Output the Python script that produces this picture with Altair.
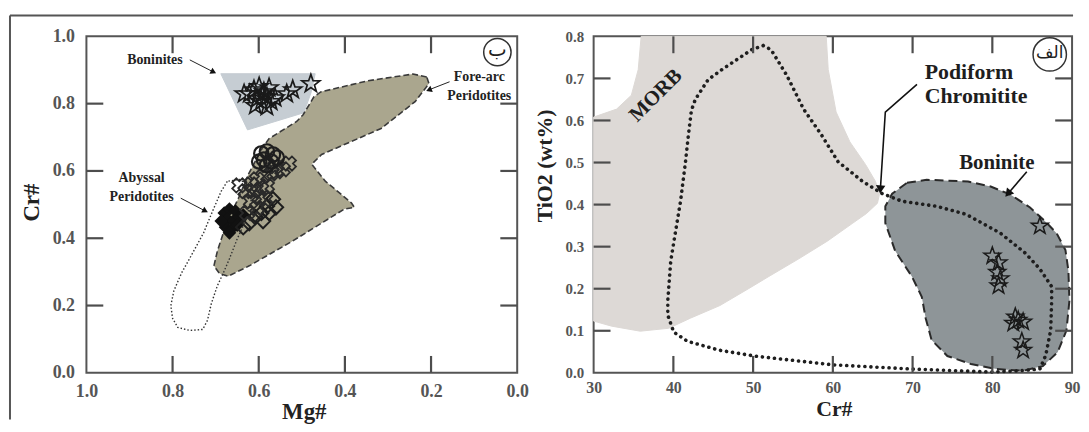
import altair as alt
import pandas as pd

# ---------------- Left panel: Cr# vs Mg# ----------------
bon_field_mg = [0.688, 0.469, 0.478, 0.495, 0.626]
bon_field_cr = [0.889, 0.889, 0.835, 0.773, 0.722]

forearc_mg = [0.210, 0.242, 0.346, 0.456, 0.472, 0.497, 0.512, 0.576, 0.592, 0.624, 0.647, 0.673,
              0.696, 0.704, 0.691, 0.671, 0.622, 0.521, 0.401, 0.378, 0.385, 0.408, 0.445, 0.477,
              0.454, 0.316, 0.237, 0.214, 0.205]
forearc_cr = [0.879, 0.888, 0.868, 0.835, 0.820, 0.767, 0.747, 0.696, 0.667, 0.590, 0.519, 0.451,
              0.362, 0.318, 0.295, 0.287, 0.318, 0.392, 0.487, 0.492, 0.505, 0.530, 0.569, 0.620,
              0.649, 0.726, 0.806, 0.844, 0.860]

abyssal_mg = [0.673, 0.687, 0.707, 0.728, 0.753, 0.779, 0.797, 0.804, 0.800, 0.788, 0.760, 0.730,
              0.719, 0.710, 0.696, 0.682, 0.668, 0.650, 0.631, 0.618, 0.618, 0.645]
abyssal_cr = [0.569, 0.540, 0.481, 0.416, 0.357, 0.297, 0.244, 0.200, 0.162, 0.135, 0.126, 0.129,
              0.156, 0.206, 0.259, 0.297, 0.339, 0.398, 0.451, 0.510, 0.555, 0.575]

star_mg = [0.622, 0.611, 0.599, 0.588, 0.604, 0.581, 0.594, 0.571, 0.634, 0.590, 0.576, 0.608,
           0.581, 0.562, 0.535, 0.521, 0.479]
star_cr = [0.829, 0.841, 0.850, 0.835, 0.814, 0.820, 0.806, 0.806, 0.829, 0.829, 0.847, 0.794,
           0.791, 0.817, 0.829, 0.841, 0.859]

circ_mg = [0.594, 0.581, 0.567, 0.588, 0.571, 0.558, 0.581, 0.599]
circ_cr = [0.652, 0.658, 0.649, 0.634, 0.628, 0.640, 0.617, 0.628]

cross_mg = [0.530, 0.544, 0.558, 0.571, 0.590, 0.604, 0.618, 0.631, 0.611, 0.594, 0.581, 0.599,
            0.618, 0.585, 0.604, 0.627, 0.645, 0.562]
cross_cr = [0.622, 0.605, 0.599, 0.593, 0.584, 0.575, 0.560, 0.540, 0.540, 0.546, 0.555, 0.522,
            0.510, 0.516, 0.490, 0.475, 0.557, 0.614]

dia_mg = [0.581, 0.567, 0.594, 0.608, 0.576, 0.622, 0.590, 0.560, 0.636]
dia_cr = [0.495, 0.516, 0.475, 0.463, 0.475, 0.445, 0.451, 0.492, 0.433]

blk_mg = [0.680, 0.668, 0.654, 0.673, 0.659, 0.645, 0.677, 0.664, 0.650, 0.636, 0.668, 0.687]
blk_cr = [0.475, 0.487, 0.481, 0.457, 0.451, 0.463, 0.433, 0.427, 0.439, 0.469, 0.416, 0.451]

left_labels_x = [0.0, 0.2, 0.4, 0.6, 0.8, 1.0]
left_labels_y = [0.0, 0.2, 0.4, 0.6, 0.8, 1.0]
left_ticks_x = [0.2, 0.4, 0.6, 0.8]
left_ticks_y = [0.2, 0.4, 0.6, 0.8]

left_text = ["Boninites", "Fore-arc", "Peridotites", "Abyssal", "Peridotites"]
left_text_mg = [0.841, 0.088, 0.088, 0.872, 0.872]
left_text_cr = [0.930, 0.879, 0.823, 0.579, 0.523]

# arrows: start -> end
left_arrow_id = ["bon", "bon", "fa", "fa", "aby", "aby"]
left_arrow_mg = [0.760, 0.705, 0.157, 0.205, 0.781, 0.724]
left_arrow_cr = [0.930, 0.894, 0.865, 0.841, 0.519, 0.481]
left_head_mg = [0.705, 0.205, 0.724]
left_head_cr = [0.894, 0.841, 0.481]
left_head_ang = [27, 159, 28]

left_badge = ["ب"]
left_badge_mg = [0.046]
left_badge_cr = [0.953]

# ---------------- Right panel: TiO2 vs Cr# ----------------
morb_cr = [35.96, 35.59, 34.73, 32.88, 30.0, 30.0, 32.26, 35.84, 39.42, 42.14, 45.84, 49.42,
           52.14, 55.72, 59.30, 62.51, 64.23, 65.59, 65.84, 65.35, 64.11, 62.14, 60.41, 59.42, 59.17]
morb_ti = [0.800, 0.721, 0.660, 0.627, 0.608, 0.123, 0.111, 0.099, 0.106, 0.130, 0.160, 0.200,
           0.231, 0.271, 0.313, 0.356, 0.379, 0.403, 0.424, 0.455, 0.495, 0.549, 0.620, 0.721, 0.800]

bonr_cr = [69.30, 71.77, 76.95, 79.79, 82.26, 84.73, 86.58, 88.06, 89.17, 89.54, 89.67, 89.30,
           88.19, 86.33, 83.86, 80.53, 77.32, 74.36, 72.38, 71.64, 71.15, 69.91, 67.81, 66.58,
           66.58, 67.44]
bonr_ti = [0.452, 0.459, 0.455, 0.443, 0.424, 0.393, 0.361, 0.332, 0.292, 0.243, 0.172, 0.101,
           0.049, 0.016, 0.005, 0.009, 0.021, 0.040, 0.078, 0.130, 0.181, 0.229, 0.290, 0.356,
           0.396, 0.426]

pod_cr = [51.27, 52.26, 54.23, 56.33, 58.56, 60.65, 63.74, 66.21, 68.68, 73.0, 76.70, 81.02,
          84.11, 85.96, 87.44, 87.44, 87.32, 86.70, 85.96, 83.49, 79.79, 69.91, 60.04, 50.16,
          45.72, 41.77, 40.04, 39.30, 39.30, 39.67, 40.28, 40.90, 41.52, 41.89, 42.26, 42.75,
          44.36, 46.09, 49.79]
pod_ti = [0.778, 0.768, 0.707, 0.627, 0.566, 0.502, 0.455, 0.426, 0.408, 0.396, 0.377, 0.332,
          0.285, 0.247, 0.205, 0.172, 0.101, 0.042, 0.009, 0.005, 0.002, 0.009, 0.019, 0.040,
          0.054, 0.075, 0.097, 0.137, 0.172, 0.266, 0.337, 0.408, 0.502, 0.566, 0.624, 0.650,
          0.697, 0.721, 0.768]

rstar_cr = [85.96, 80.0, 80.78, 80.62, 81.02, 80.78, 82.88, 83.25, 83.86, 82.63, 83.70, 83.86]
rstar_ti = [0.349, 0.278, 0.262, 0.239, 0.224, 0.207, 0.133, 0.125, 0.121, 0.118, 0.074, 0.054]

right_labels_x = [30, 40, 50, 60, 70, 80, 90]
right_labels_y = [0.0, 0.1, 0.2, 0.3, 0.4, 0.5, 0.6, 0.7, 0.8]
right_ticks_x = [40, 50, 60, 70, 80]
right_ticks_y = [0.1, 0.2, 0.3, 0.4, 0.5, 0.6, 0.7]

right_text = ["Podiform", "Chromitite", "Boninite"]
right_text_cr = [71.52, 71.52, 75.84]
right_text_ti = [0.714, 0.657, 0.498]
right_text_size = [22, 22, 21]

right_arrow_id = ["pod", "pod", "pod", "bon", "bon"]
right_arrow_cr = [70.55, 66.58, 65.96, 84.32, 81.96]
right_arrow_ti = [0.686, 0.620, 0.436, 0.478, 0.426]
right_head_cr = [65.96, 81.96]
right_head_ti = [0.436, 0.426]
right_head_ang = [94, 130]

morb_label = ["MORB"]
morb_label_cr = [37.81]
morb_label_ti = [0.659]

right_badge = ["الف"]
right_badge_cr = [87.20]
right_badge_ti = [0.757]

# ---------------- helpers ----------------
SERIF = "Liberation Serif"
AX = "#555555"
STAR = ("M0,-1L0.235,-0.324L0.951,-0.309L0.380,0.124L0.588,0.809L0,0.4L-0.588,0.809"
        "L-0.380,0.124L-0.951,-0.309L-0.235,-0.324Z")
TICK = 17


def poly_df(xs, ys):
    xs = list(xs) + [xs[0]]
    ys = list(ys) + [ys[0]]
    return pd.DataFrame({"x": xs, "y": ys, "i": list(range(len(xs)))})


def pts_df(xs, ys, **extra):
    d = {"x": xs, "y": ys}
    d.update(extra)
    return pd.DataFrame(d)


def enc(xsc, ysc, **kw):
    return dict(x=alt.X("x:Q", scale=xsc, axis=None), y=alt.Y("y:Q", scale=ysc, axis=None), **kw)


def tick_layers(W, H, xsc, ysc, xticks, yticks):
    xt = pd.DataFrame({"tx": xticks})
    yt = pd.DataFrame({"ty": yticks})
    rk = dict(color="#4d4d4d", strokeWidth=2.2)
    return [
        alt.Chart(xt).mark_rule(**rk).encode(
            x=alt.X("tx:Q", scale=xsc, axis=None), y=alt.value(H - TICK), y2=alt.value(H)),
        alt.Chart(xt).mark_rule(**rk).encode(
            x=alt.X("tx:Q", scale=xsc, axis=None), y=alt.value(0), y2=alt.value(TICK)),
        alt.Chart(yt).mark_rule(**rk).encode(
            y=alt.Y("ty:Q", scale=ysc, axis=None), x=alt.value(0), x2=alt.value(TICK)),
        alt.Chart(yt).mark_rule(**rk).encode(
            y=alt.Y("ty:Q", scale=ysc, axis=None), x=alt.value(W - TICK), x2=alt.value(W)),
    ]


def axes_layer(xsc, ysc, xlab, ylab, xfmt, yfmt, xtitle, ytitle, lab_size_x, lab_size_y,
               title_size, xtitle_pos, ytitle_pos, lab_pad_x, lab_pad_y):
    anchor = pd.DataFrame({"x": [xlab[0]], "y": [ylab[0]]})
    return alt.Chart(anchor).mark_point(opacity=0).encode(
        x=alt.X("x:Q", scale=xsc, axis=alt.Axis(
            orient="bottom", values=xlab, format=xfmt, ticks=False, domain=False, grid=False,
            labelFont=SERIF, labelFontWeight="bold", labelFontSize=lab_size_x, labelColor=AX,
            labelPadding=lab_pad_x, labelFlush=False, labelOverlap=False,
            title=xtitle, titleFont=SERIF, titleFontWeight="bold", titleFontSize=title_size,
            titleColor="#222222", titleX=xtitle_pos[0], titleY=xtitle_pos[1],
            titleBaseline="middle", titleAlign="center")),
        y=alt.Y("y:Q", scale=ysc, axis=alt.Axis(
            orient="left", values=ylab, format=yfmt, ticks=False, domain=False, grid=False,
            labelFont=SERIF, labelFontWeight="bold", labelFontSize=lab_size_y, labelColor=AX,
            labelPadding=lab_pad_y, labelOverlap=False, labelBaseline="middle",
            title=ytitle, titleFont=SERIF, titleFontWeight="bold", titleFontSize=title_size,
            titleColor="#222222", titleX=ytitle_pos[0], titleY=ytitle_pos[1],
            titleBaseline="middle", titleAlign="center", titleAngle=270)),
    )


# ---------------- left panel layers ----------------
LW, LH = 434, 339
lx = alt.Scale(domain=[0, 1], reverse=True, nice=False, zero=False)
ly = alt.Scale(domain=[0, 1], nice=False, zero=False)

frame_top = alt.Chart(pd.DataFrame({"k": [0]})).mark_rule(color="#555555", strokeWidth=2).encode(
    x=alt.value(-77), x2=alt.value(994), y=alt.value(-21))
frame_left = alt.Chart(pd.DataFrame({"k": [1]})).mark_rule(color="#555555", strokeWidth=2).encode(
    x=alt.value(-77), y=alt.value(-21), y2=alt.value(386))

l_bon = alt.Chart(poly_df(bon_field_mg, bon_field_cr)).mark_line(
    fill="#c6cdd3", stroke="#c6cdd3", strokeWidth=1).encode(**enc(lx, ly, order="i:Q"))
l_fa = alt.Chart(poly_df(forearc_mg, forearc_cr)).mark_line(
    fill="#aaa68e", stroke="#3a3a3a", strokeWidth=1.6, strokeDash=[6, 3]).encode(**enc(lx, ly, order="i:Q"))
l_aby = alt.Chart(poly_df(abyssal_mg, abyssal_cr)).mark_line(
    stroke="#333333", strokeWidth=1.4, strokeDash=[1.5, 2], strokeCap="butt").encode(**enc(lx, ly, order="i:Q"))

l_blk = alt.Chart(pts_df(blk_mg, blk_cr)).mark_point(
    shape="diamond", filled=True, color="#111111", size=190, opacity=1).encode(**enc(lx, ly))
l_dia = alt.Chart(pts_df(dia_mg, dia_cr)).mark_point(
    shape="diamond", filled=False, color="#1e1e1e", size=210, strokeWidth=2, opacity=1).encode(**enc(lx, ly))
l_cross = alt.Chart(pts_df(cross_mg, cross_cr)).mark_point(
    shape="cross", angle=45, filled=False, color="#2a2a2a", size=210, strokeWidth=1.8, opacity=1).encode(**enc(lx, ly))
l_circ = alt.Chart(pts_df(circ_mg, circ_cr)).mark_point(
    shape="circle", filled=False, color="#1e1e1e", size=210, strokeWidth=2.2, opacity=1).encode(**enc(lx, ly))
l_star = alt.Chart(pts_df(star_mg, star_cr)).mark_point(
    shape=STAR, filled=False, color="#1a1a1a", size=360, strokeWidth=1.7, opacity=1).encode(**enc(lx, ly))

l_text = alt.Chart(pts_df(left_text_mg, left_text_cr, t=left_text)).mark_text(
    font=SERIF, fontWeight="bold", fontSize=14, color="#222222", align="center", baseline="middle"
).encode(**enc(lx, ly, text="t:N"))
l_arrow = alt.Chart(pts_df(left_arrow_mg, left_arrow_cr, g=left_arrow_id,
                           i=list(range(len(left_arrow_id))))).mark_line(
    color="#222222", strokeWidth=1).encode(**enc(lx, ly, detail="g:N", order="i:Q"))
l_head = alt.Chart(pts_df(left_head_mg, left_head_cr, a=left_head_ang)).mark_point(
    shape="triangle-right", filled=True, color="#111111", size=45, opacity=1).encode(
    **enc(lx, ly, angle=alt.Angle("a:Q", scale=None)))
l_badge_c = alt.Chart(pts_df(left_badge_mg, left_badge_cr)).mark_point(
    shape="circle", filled=False, color="#333333", size=760, strokeWidth=1.5, opacity=1).encode(**enc(lx, ly))
l_badge_t = alt.Chart(pts_df(left_badge_mg, left_badge_cr, t=left_badge)).mark_text(
    font="DejaVu Sans", fontSize=20, color="#222222", align="center", baseline="middle", dy=-2
).encode(**enc(lx, ly, text="t:N"))

l_axes = axes_layer(lx, ly, left_labels_x, left_labels_y, ".1f", ".1f", "Mg#", "Cr#", 18, 18, 23,
                    (219, 39), (-55, 167), 10, 12)

left = alt.layer(
    frame_top, frame_left, l_bon, l_fa, l_aby,
    *tick_layers(LW, LH, lx, ly, left_ticks_x, left_ticks_y),
    l_blk, l_dia, l_cross, l_circ, l_star, l_text, l_arrow, l_head, l_badge_c, l_badge_t, l_axes
).resolve_axis(x="independent", y="independent").properties(width=LW, height=LH)

# ---------------- right panel layers ----------------
RW, RH = 482, 339
rx = alt.Scale(domain=[30, 90], nice=False, zero=False)
ry = alt.Scale(domain=[0, 0.8], nice=False, zero=False)

r_morb = alt.Chart(poly_df(morb_cr, morb_ti)).mark_line(
    fill="#ddd9d6", stroke="#ddd9d6", strokeWidth=1).encode(**enc(rx, ry, order="i:Q"))
r_bon = alt.Chart(poly_df(bonr_cr, bonr_ti)).mark_line(
    fill="#8e9598", stroke="#2a2a2a", strokeWidth=2, strokeDash=[9, 5]).encode(**enc(rx, ry, order="i:Q"))
r_pod = alt.Chart(poly_df(pod_cr, pod_ti)).mark_line(
    stroke="#1e1e1e", strokeWidth=3.6, strokeDash=[0.1, 6], strokeCap="round").encode(**enc(rx, ry, order="i:Q"))
r_star = alt.Chart(pts_df(rstar_cr, rstar_ti)).mark_point(
    shape=STAR, filled=False, color="#1a1a1a", size=320, strokeWidth=1.5, opacity=1).encode(**enc(rx, ry))

r_text = alt.Chart(pts_df(right_text_cr, right_text_ti, t=right_text,
                          fs=right_text_size)).mark_text(
    font=SERIF, fontWeight="bold", color="#1e1e1e", align="left", baseline="middle"
).encode(**enc(rx, ry, text="t:N", size=alt.Size("fs:Q", scale=None)))
r_morb_t = alt.Chart(pts_df(morb_label_cr, morb_label_ti, t=morb_label)).mark_text(
    font=SERIF, fontWeight="bold", fontSize=21, color="#1e1e1e", align="center", baseline="middle",
    angle=315).encode(**enc(rx, ry, text="t:N"))
r_arrow = alt.Chart(pts_df(right_arrow_cr, right_arrow_ti, g=right_arrow_id,
                           i=list(range(len(right_arrow_id))))).mark_line(
    color="#111111", strokeWidth=1.6).encode(**enc(rx, ry, detail="g:N", order="i:Q"))
r_head = alt.Chart(pts_df(right_head_cr, right_head_ti, a=right_head_ang)).mark_point(
    shape="triangle-right", filled=True, color="#111111", size=90, opacity=1).encode(
    **enc(rx, ry, angle=alt.Angle("a:Q", scale=None)))
r_badge_c = alt.Chart(pts_df(right_badge_cr, right_badge_ti)).mark_point(
    shape="circle", filled=False, color="#333333", size=1130, strokeWidth=1.5, opacity=1).encode(**enc(rx, ry))
r_badge_t = alt.Chart(pts_df(right_badge_cr, right_badge_ti, t=right_badge)).mark_text(
    font="DejaVu Sans", fontSize=17, color="#222222", align="center", baseline="middle", dy=-1
).encode(**enc(rx, ry, text="t:N"))

r_axes = axes_layer(rx, ry, right_labels_x, right_labels_y, "d", ".1f", "Cr#", "TiO2 (wt%)", 16, 15, 22,
                    (242, 36), (-49, 130), 7, 10)

right = alt.layer(
    r_morb, r_bon, r_pod,
    *tick_layers(RW, RH, rx, ry, right_ticks_x, right_ticks_y),
    r_star, r_text, r_morb_t, r_arrow, r_head, r_badge_c, r_badge_t, r_axes
).resolve_axis(x="independent", y="independent").properties(width=RW, height=RH)

chart = alt.hconcat(left, right, spacing=77, bounds="flush").properties(
    padding={"left": 0, "top": 4, "right": 0, "bottom": 0},
).configure_view(stroke=AX, strokeWidth=2)

chart.save("out.html", embed_options={"renderer": "svg", "actions": False})
